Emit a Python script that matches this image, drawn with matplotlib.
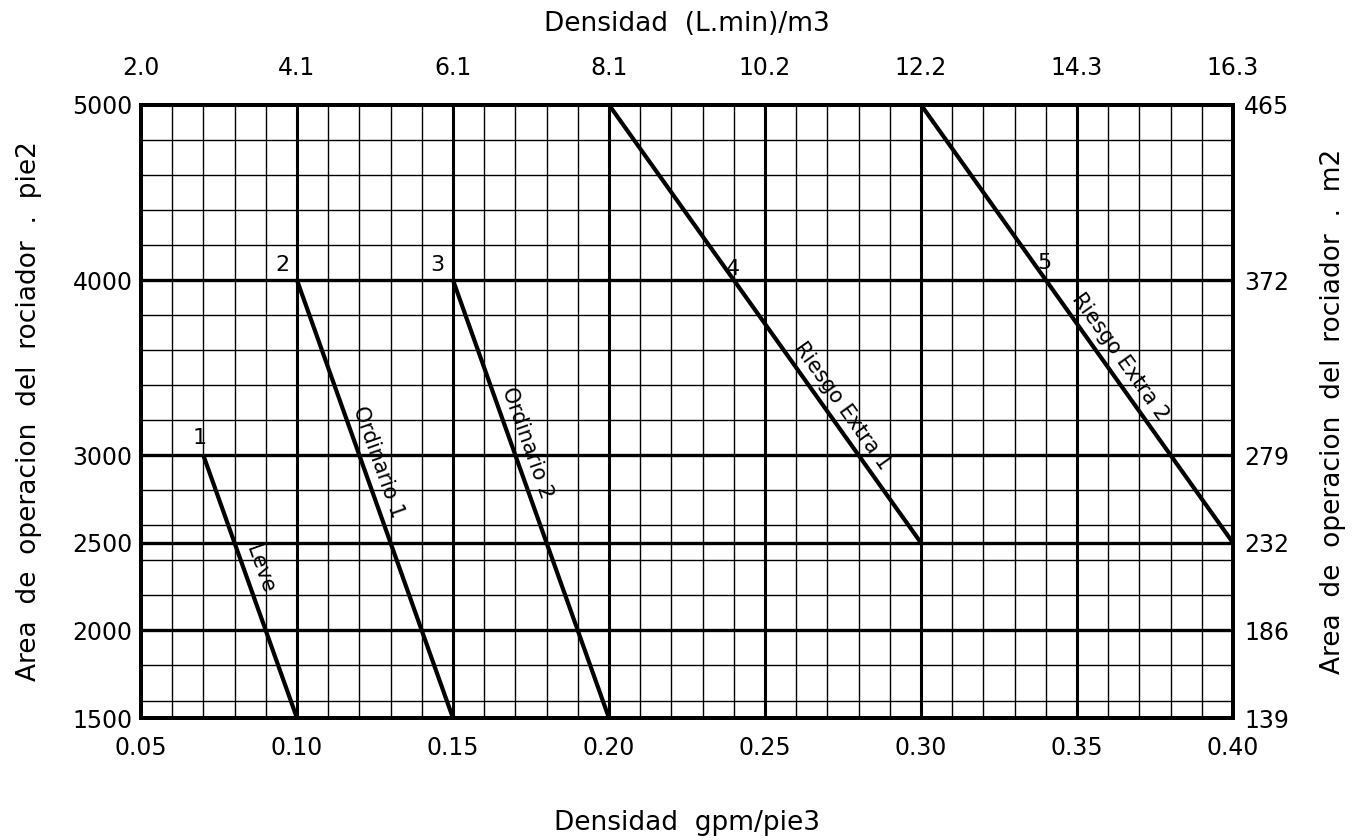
import numpy as np
import matplotlib
matplotlib.use("Agg")
import matplotlib.pyplot as plt
import matplotlib.transforms as mtransforms

# curvas de diseño (densidad gpm/pie2, area pie2)
curvas = ["Leve", "Ordinario 1", "Ordinario 2", "Riesgo Extra 1", "Riesgo Extra 2"]
numeros = ["1", "2", "3", "4", "5"]
dens_ini = [0.07, 0.10, 0.15, 0.20, 0.30]
area_ini = [3000, 4000, 4000, 5000, 5000]
dens_fin = [0.10, 0.15, 0.20, 0.30, 0.40]
area_fin = [1500, 1500, 1500, 2500, 2500]

# posicion del texto de cada curva (area donde va centrado)
area_texto = [2320, 2930, 3040, 3230, 3510]
# posicion de los numeros
num_x = [0.0688, 0.0955, 0.1450, 0.2397, 0.3397]
num_y = [3100, 4085, 4085, 4065, 4100]

x_ticks = [0.05, 0.10, 0.15, 0.20, 0.25, 0.30, 0.35, 0.40]
y_ticks = [1500, 2000, 2500, 3000, 4000, 5000]
y_minor = [1600, 1800, 2200, 2400, 2600, 2800, 3200, 3400, 3600, 3800,
           4200, 4400, 4600, 4800]

GPM_A_LPM = 40.746    # gpm/pie2 -> (L/min)/m2
PIE2_A_M2 = 0.092903  # pie2 -> m2

plt.rcParams['font.family'] = ['DejaVu Sans']

fig = plt.figure(figsize=(13.55, 8.4), dpi=100)
ax = fig.add_axes([0.104, 0.1452, 0.806, 0.730])
ax.set_xlim(0.05, 0.40)
ax.set_ylim(1500, 5000)

# cuadricula
for xv in np.arange(0.06, 0.40, 0.01):
    grueso = abs(round(xv / 0.05) * 0.05 - xv) < 1e-6
    ax.axvline(xv, color="black", lw=2.2 if grueso else 1.0, zorder=1)
for yv in y_minor:
    ax.axhline(yv, color="black", lw=1.0, zorder=1)
for yv in y_ticks[1:-1]:
    ax.axhline(yv, color="black", lw=2.4, zorder=1)

for s in ax.spines.values():
    s.set_linewidth(2.8)

# curvas
for i in range(len(curvas)):
    ax.plot([dens_ini[i], dens_fin[i]], [area_ini[i], area_fin[i]],
            color="black", lw=3, zorder=3, solid_capstyle="butt")
    p0 = ax.transData.transform((dens_ini[i], area_ini[i]))
    p1 = ax.transData.transform((dens_fin[i], area_fin[i]))
    ang = np.degrees(np.arctan2(p1[1] - p0[1], p1[0] - p0[0]))
    t = (area_texto[i] - area_ini[i]) / (area_fin[i] - area_ini[i])
    xt = dens_ini[i] + t * (dens_fin[i] - dens_ini[i])
    r = np.radians(ang)
    desp = mtransforms.ScaledTranslation(-np.sin(r) * 4 / 72, np.cos(r) * 4 / 72,
                                         fig.dpi_scale_trans)
    ax.text(xt, area_texto[i], curvas[i], rotation=ang,
            rotation_mode="anchor", ha="center", va="bottom", fontsize=15,
            zorder=4, transform=ax.transData + desp)
    ax.text(num_x[i], num_y[i], numeros[i], ha="center", va="center",
            fontsize=16, zorder=4)

ax.set_xticks(x_ticks)
ax.set_xticklabels(["%.2f" % v for v in x_ticks])
ax.set_yticks(y_ticks)
ax.set_yticklabels([str(v) for v in y_ticks])
ax.tick_params(axis="x", length=0, pad=13, labelsize=17)
ax.tick_params(axis="y", length=0, pad=6, labelsize=17)
ax.set_xlabel("Densidad  gpm/pie3", fontsize=19, labelpad=36)
ax.set_ylabel("Area  de  operacion  del  rociador  .  pie2", fontsize=19, labelpad=22)

# eje superior en unidades metricas
axt = ax.twiny()
axt.set_xlim(ax.get_xlim())
axt.set_xticks(x_ticks)
axt.set_xticklabels(["%.1f" % (v * GPM_A_LPM) for v in x_ticks])
axt.tick_params(axis="x", length=0, pad=18, labelsize=17)
axt.set_xlabel("Densidad  (L.min)/m3", fontsize=19, labelpad=18)

# eje derecho en m2
axr = ax.twinx()
axr.set_ylim(ax.get_ylim())
axr.set_yticks(y_ticks)
axr.set_yticklabels(["%.0f" % (v * PIE2_A_M2) for v in y_ticks])
axr.tick_params(axis="y", length=0, pad=8, labelsize=17)
axr.set_ylabel("Area  de  operacion  del  rociador  .  m2", fontsize=19,
               rotation=90, labelpad=22)

for a in (axt, axr):
    for s in a.spines.values():
        s.set_linewidth(2.8)

fig.savefig("out.png", dpi=100)
